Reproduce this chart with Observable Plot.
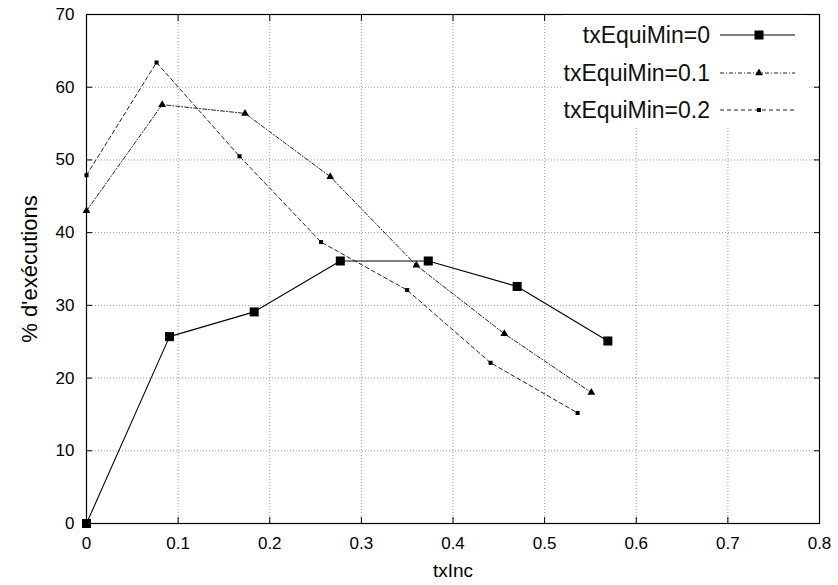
<!DOCTYPE html>
<html>
<head>
<meta charset="utf-8">
<script src="https://cdn.jsdelivr.net/npm/d3@7"></script>
<script src="https://cdn.jsdelivr.net/npm/@observablehq/plot@0.6"></script>
<style>
  html, body { margin: 0; padding: 0; background: #fff; }
  #chart svg { display: block; }
</style>
</head>
<body>
<div id="chart"></div>
<script>
// ---- data ----
const seriesNames = ["txEquiMin=0", "txEquiMin=0.1", "txEquiMin=0.2"];
const txInc0 = [0, 0.0906, 0.183, 0.277, 0.373, 0.470, 0.569];
const pct0   = [0, 25.7, 29.1, 36.1, 36.1, 32.6, 25.1];
const txInc1 = [0, 0.0826, 0.173, 0.266, 0.360, 0.456, 0.551];
const pct1   = [43.0, 57.6, 56.4, 47.7, 35.5, 26.1, 18.0];
const txInc2 = [0, 0.0764, 0.167, 0.256, 0.350, 0.441, 0.536];
const pct2   = [47.9, 63.4, 50.5, 38.7, 32.1, 22.1, 15.2];
const xTicks = [0, 0.1, 0.2, 0.3, 0.4, 0.5, 0.6, 0.7, 0.8];
const yTicks = [0, 10, 20, 30, 40, 50, 60, 70];
const xLabel = "txInc";
const yLabel = "% d'exécutions";

const toRows = (xs, ys, name) => xs.map((x, i) => ({x, y: ys[i], s: name}));
const s0 = toRows(txInc0, pct0, seriesNames[0]);
const s1 = toRows(txInc1, pct1, seriesNames[1]);
const s2 = toRows(txInc2, pct2, seriesNames[2]);

const styles = [
  {stroke: "#000", dash: null, symbol: "square", r: 5.1, width: 1.1},
  {stroke: "#222", dash: "4,2,1,2", symbol: "triangle", r: 2.9, width: 1},
  {stroke: "#222", dash: "4,3", symbol: "square", r: 2.3, width: 1}
];
const FONT = "'Liberation Sans', Arial, sans-serif";
const gridX = xTicks.filter(d => d > 0 && d < 0.8);
const gridY = yTicks.filter(d => d > 0 && d < 70);

const chart = Plot.plot({
  width: 838,
  height: 585,
  marginLeft: 86,
  marginRight: 19,
  marginTop: 14,
  marginBottom: 62,
  style: {fontFamily: FONT, fontSize: "17px", color: "#000", background: "#fff"},
  x: {domain: [0, 0.8]},
  y: {domain: [0, 70]},
  marks: [
    Plot.ruleX(gridX, {stroke: "#999", strokeDasharray: "1,2", strokeWidth: 1}),
    Plot.ruleY(gridY, {stroke: "#999", strokeDasharray: "1,2", strokeWidth: 1}),
    Plot.axisX(xTicks, {anchor: "bottom", tickSize: 0, tickPadding: 13, tickFormat: d => String(d), fontSize: 17, label: null}),
    Plot.axisY(yTicks, {anchor: "left", tickSize: 0, tickPadding: 12, tickFormat: d => String(d), fontSize: 17, label: null}),
    Plot.axisX(xTicks, {anchor: "bottom", tickSize: -6, tickFormat: () => "", label: null}),
    Plot.axisX(xTicks, {anchor: "top", tickSize: -6, tickFormat: () => "", label: null}),
    Plot.axisY(yTicks, {anchor: "left", tickSize: -6, tickFormat: () => "", label: null}),
    Plot.axisY(yTicks, {anchor: "right", tickSize: -6, tickFormat: () => "", label: null}),
    Plot.frame({stroke: "#000", strokeWidth: 1.2}),
    Plot.text([xLabel], {frameAnchor: "bottom", dy: 47, lineAnchor: "middle", textAnchor: "middle", fontSize: 19}),
    Plot.text([yLabel], {frameAnchor: "left", dx: -57, rotate: -90, lineAnchor: "middle", textAnchor: "middle", fontSize: 22}),
    Plot.line(s2, {x: "x", y: "y", stroke: styles[2].stroke, strokeDasharray: styles[2].dash, strokeWidth: styles[2].width}),
    Plot.line(s1, {x: "x", y: "y", stroke: styles[1].stroke, strokeDasharray: styles[1].dash, strokeWidth: styles[1].width}),
    Plot.line(s0, {x: "x", y: "y", stroke: styles[0].stroke, strokeWidth: styles[0].width}),
    Plot.dot(s2, {x: "x", y: "y", symbol: "square", r: styles[2].r, fill: "#000", stroke: null}),
    Plot.dot(s1, {x: "x", y: "y", symbol: "triangle", r: styles[1].r, fill: "#000", stroke: null}),
    Plot.dot(s0, {x: "x", y: "y", symbol: "square", r: styles[0].r, fill: "#000", stroke: null})
  ]
});

// ---- key (gnuplot style, opaque) ----
const svg = d3.select(chart);
const key = svg.append("g").attr("class", "key");
key.append("rect").attr("x", 563).attr("y", 15).attr("width", 244).attr("height", 113).attr("fill", "#fff");
const rowY = [35, 73, 110];
const symbolGen = {square: d3.symbolSquare, triangle: d3.symbolTriangle};
seriesNames.forEach((name, i) => {
  const st = styles[i];
  key.append("text")
    .attr("x", 710).attr("y", rowY[i]).attr("dy", "0.35em")
    .attr("text-anchor", "end")
    .attr("font-family", FONT).attr("font-size", 23).attr("fill", "#111")
    .text(name);
  key.append("line")
    .attr("x1", 720).attr("x2", 795).attr("y1", rowY[i]).attr("y2", rowY[i])
    .attr("stroke", st.stroke).attr("stroke-width", st.width)
    .attr("stroke-dasharray", st.dash);
  key.append("path")
    .attr("transform", `translate(759,${rowY[i]})`)
    .attr("d", d3.symbol(symbolGen[st.symbol], Math.PI * st.r * st.r)())
    .attr("fill", "#000");
});

document.getElementById("chart").appendChild(chart);
</script>
</body>
</html>
